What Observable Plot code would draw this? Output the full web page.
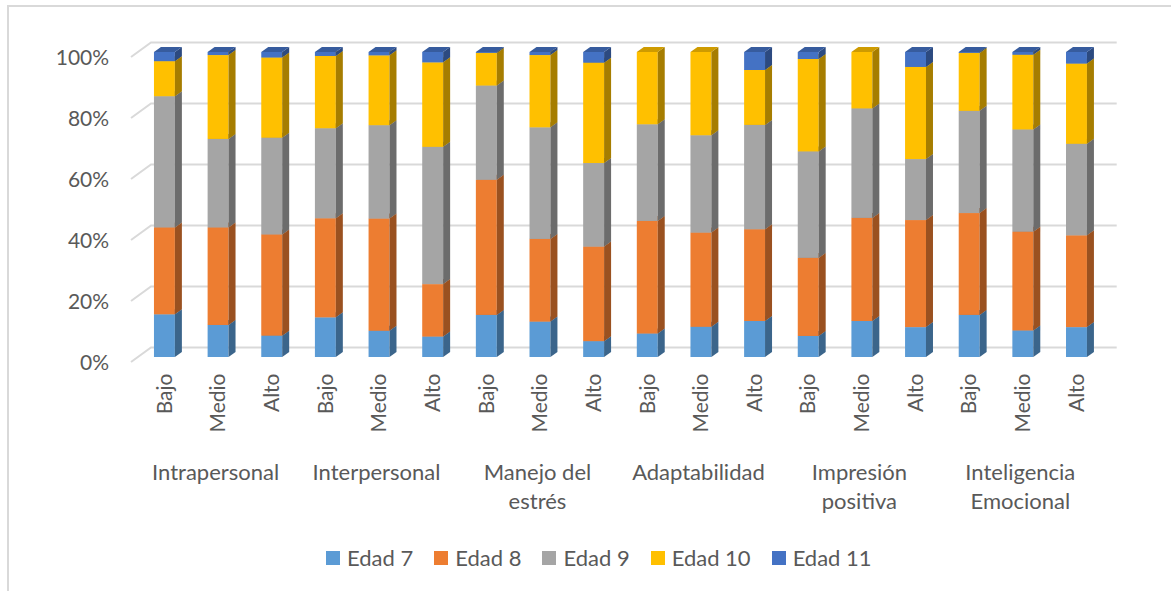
<!DOCTYPE html>
<html><head><meta charset="utf-8">
<script src="https://cdn.jsdelivr.net/npm/d3@7"></script>
<script src="https://cdn.jsdelivr.net/npm/@observablehq/plot@0.6"></script>
<style>
body{margin:0;background:#fff;font-family:Lato,sans-serif;}
#wrap{position:relative;width:1171px;height:591px;overflow:hidden;background:#fff;}
#border{position:absolute;left:7px;top:5px;width:2000px;height:2000px;border-left:2px solid #d9d9d9;border-top:2px solid #d9d9d9;pointer-events:none;}
#chart{position:absolute;left:0;top:0;}
#legend{position:absolute;left:326px;top:541px;white-space:nowrap;}
.lg-swatch{margin-right:21px !important;}
.lg-swatch > svg{margin-right:7px !important;}
</style></head><body>
<div id="wrap"><div id="chart"></div><div id="legend"></div><div id="border"></div></div>
<script>
// ---- data ----
const groupLabels = ["Intrapersonal", "Interpersonal", "Manejo del\nestrés", "Adaptabilidad", "Impresión\npositiva", "Inteligencia\nEmocional"];
const levels = ["Bajo", "Medio", "Alto"];
const ages = ["Edad 7", "Edad 8", "Edad 9", "Edad 10", "Edad 11"];
const colors = ["#5B9BD5", "#ED7D31", "#A5A5A5", "#FFC000", "#4472C4"];
// one value per bar (group x level), in %
const edad7  = [14.0, 10.5, 7.0, 13.0, 8.6, 6.7, 13.8, 11.6, 5.2, 7.7, 9.9, 11.8, 6.9, 11.8, 9.8, 13.8, 8.7, 9.8];
const edad8  = [28.5, 32.0, 33.2, 32.5, 36.8, 17.2, 44.3, 27.1, 31.0, 36.9, 30.9, 30.1, 25.6, 33.8, 35.1, 33.4, 32.4, 30.1];
const edad9  = [43.0, 29.0, 31.7, 29.5, 30.6, 45.0, 30.9, 36.6, 27.4, 31.7, 31.9, 34.2, 34.9, 35.9, 20.0, 33.5, 33.5, 30.0];
const edad10 = [11.5, 27.5, 26.3, 23.7, 22.9, 27.7, 10.7, 23.7, 32.9, 23.7, 27.3, 18.0, 30.3, 18.5, 30.2, 19.0, 24.5, 26.3];
const edad11 = [3.0, 1.0, 1.8, 1.3, 1.1, 3.4, 0.3, 1.0, 3.5, 0.0, 0.0, 5.9, 2.3, 0.0, 4.9, 0.3, 0.9, 3.8];
const yTicks = [0, 0.2, 0.4, 0.6, 0.8, 1];

// ---- table ----
const series = [edad7, edad8, edad9, edad10, edad11];
const keys = [];
groupLabels.forEach((g, gi) => levels.forEach(l => keys.push(gi + "|" + l)));
const rows = [];
keys.forEach((k, i) => ages.forEach((a, ai) => rows.push({key: k, age: a, value: series[ai][i]})));

const TXT = "#595959", GRID = "#d9d9d9", FS = 21;
const DX = 7, DY = 5;

function bars3d(index, scales, values) {
  const X = values.x, Y1 = values.y1, Y2 = values.y2, F = values.fill;
  const bw = scales.x.bandwidth();
  const g = d3.create("svg:g");
  const idx = Array.from(index).sort((a, b) => Math.max(Y1[b], Y2[b]) - Math.max(Y1[a], Y2[a]));
  for (const i of idx) {
    const top = Math.min(Y1[i], Y2[i]), bot = Math.max(Y1[i], Y2[i]);
    if (bot - top <= 0.001) continue;
    const x0 = X[i], x1 = X[i] + bw;
    const c = d3.color(F[i]);
    g.append("rect").attr("x", x0).attr("y", top).attr("width", bw).attr("height", bot - top).attr("fill", c.formatHex());
    g.append("path").attr("d", `M${x1},${bot}L${x1 + DX},${bot - DY}L${x1 + DX},${top - DY}L${x1},${top}Z`).attr("fill", c.darker(1.2).formatHex());
    g.append("path").attr("d", `M${x0},${top}L${x1},${top}L${x1 + DX},${top - DY}L${x0 + DX},${top - DY}Z`).attr("fill", c.darker(0.6).formatHex());
  }
  return g.node();
}

function grid3d(index, scales, values, dims) {
  const g = d3.create("svg:g").attr("fill", "none").attr("stroke", GRID).attr("stroke-width", 2);
  const xl = dims.marginLeft, xr = dims.width - dims.marginRight;
  for (const i of index) {
    const y = scales.y(yTicks[i]);
    g.append("path").attr("d", `M${xl - 6.6},${y + 5}L${xl + 13.4},${y - 9.5}L${xr + 13.4},${y - 9.5}`);
  }
  return g.node();
}

const plot = Plot.plot({
  width: 1171,
  height: 530,
  marginTop: 52,
  marginBottom: 173,
  marginLeft: 137.6,
  marginRight: 67.7,
  style: {fontFamily: "Lato, sans-serif", color: TXT, background: "transparent"},
  x: {domain: keys, paddingInner: 0.61, paddingOuter: 0.305, round: false, label: null},
  y: {domain: [0, 1], label: null},
  color: {domain: ages, range: colors},
  marks: [
    Plot.ruleY(yTicks, {render: grid3d}),
    Plot.axisY({ticks: yTicks, tickFormat: d3.format(".0%"), tickSize: 0, tickPadding: 29, dy: 6, fontSize: FS, fill: TXT, label: null}),
    Plot.axisX({tickRotate: -90, tickSize: 0, tickPadding: 16, tickFormat: d => d.split("|")[1], fontSize: FS, fill: TXT, label: null}),
    Plot.barY(rows, Plot.stackY({x: "key", y: "value", fill: "age", order: ages, offset: "normalize", render: bars3d})),
    Plot.text(groupLabels, {x: (d, i) => keys[i * 3 + 1], frameAnchor: "bottom", lineAnchor: "top", dy: 102, dx: -3, fontSize: 22, lineHeight: 1.32, fill: TXT})
  ]
});
document.getElementById("chart").appendChild(plot);

const legend = Plot.legend({
  color: {domain: ages, range: colors},
  swatchSize: 14,
  className: "lg",
  style: {fontFamily: "Lato, sans-serif", fontSize: "22px", color: TXT}
});
document.getElementById("legend").appendChild(legend);
</script>
</body></html>
